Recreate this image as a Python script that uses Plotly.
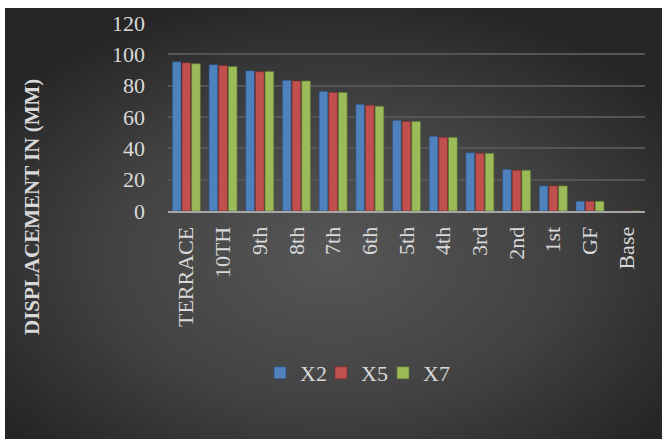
import base64
import plotly.graph_objects as go

# Storey labels and lateral displacement (mm) for the three load cases
floors = ["TERRACE", "10TH", "9th", "8th", "7th", "6th", "5th", "4th", "3rd", "2nd", "1st", "GF", "Base"]
x2 = [95.3, 93.4, 89.5, 83.4, 76.4, 68.1, 57.9, 47.7, 37.2, 26.6, 16.0, 6.2, 0]
x5 = [94.6, 92.8, 88.9, 83.0, 75.7, 67.5, 57.2, 47.0, 36.8, 26.0, 16.0, 6.2, 0]
x7 = [94.0, 92.2, 89.1, 83.0, 75.7, 66.8, 57.2, 47.0, 36.8, 26.0, 16.0, 6.2, 0]
y_ticks = [0, 20, 40, 60, 80, 100, 120]

W, H = 663, 439
ML, MR, MT, MB = 168, 18, 23, 228
PW, PH = W - ML - MR, H - MT - MB

FONT = "Liberation Serif"
TXT = "#d9d9d9"

# name, values, fill, edge, legend id, legend left edge (px)
series = [
    ("X2", x2, "#4f81bd", "#2c4d78", "legend", 260),
    ("X5", x5, "#c0504d", "#7a2a28", "legend2", 321),
    ("X7", x7, "#9bbb59", "#5d7530", "legend3", 383),
]


def px_x(p):
    return (p - ML) / PW


def px_y(p):
    return (H - MB - p) / PH


fig = go.Figure()
legends = {}
for name, vals, col, edge, leg, lx in series:
    fig.add_trace(go.Bar(
        x=floors, y=vals, name=name, legend=leg,
        marker=dict(color=col, line=dict(color=edge, width=0.6)),
    ))
    legends[leg] = dict(
        orientation="h", x=px_x(lx), y=px_y(373),
        xanchor="left", yanchor="middle",
        font=dict(family=FONT, size=22, color=TXT),
        bgcolor="rgba(0,0,0,0)",
    )

# dark radial-gradient backdrop
svg = (
    "<svg xmlns='http://www.w3.org/2000/svg' width='657' height='431' preserveAspectRatio='none'>"
    "<defs><radialGradient id='g' cx='50%' cy='58%' r='62%'>"
    "<stop offset='0' stop-color='#565656'/>"
    "<stop offset='0.55' stop-color='#424242'/>"
    "<stop offset='1' stop-color='#262626'/>"
    "</radialGradient></defs>"
    "<rect width='100%' height='100%' fill='url(#g)'/></svg>"
)
src = "data:image/svg+xml;base64," + base64.b64encode(svg.encode()).decode()

fig.add_layout_image(dict(
    source=src, xref="paper", yref="paper",
    x=px_x(5), y=px_y(8), sizex=(662 - 5) / PW, sizey=(439 - 8) / PH,
    xanchor="left", yanchor="top", sizing="stretch", layer="below",
))

fig.add_annotation(
    text="<b>DISPLACEMENT IN (MM)</b>", textangle=-90,
    xref="paper", yref="paper", x=px_x(32), y=px_y(207),
    xanchor="center", yanchor="middle", showarrow=False,
    font=dict(family=FONT, size=21, color=TXT),
)

fig.update_layout(
    width=W, height=H,
    margin=dict(l=ML, r=MR, t=MT, b=MB),
    paper_bgcolor="white", plot_bgcolor="rgba(0,0,0,0)",
    barmode="group", bargap=0.21, bargroupgap=0.1,
    font=dict(family=FONT, size=22, color=TXT),
    showlegend=True,
    **legends,
    xaxis=dict(
        tickangle=-90, showline=True, linecolor="#a6a6a6", linewidth=2,
        showgrid=False, ticks="", ticklabelstandoff=5,
        tickfont=dict(family=FONT, size=22, color=TXT),
    ),
    yaxis=dict(
        range=[0, 120], tickvals=y_ticks, showgrid=True,
        gridcolor="#555555", gridwidth=1.5, zeroline=False,
        ticks="", ticklabelstandoff=22,
        tickfont=dict(family=FONT, size=22, color=TXT),
    ),
)

fig.write_html("out.html")
